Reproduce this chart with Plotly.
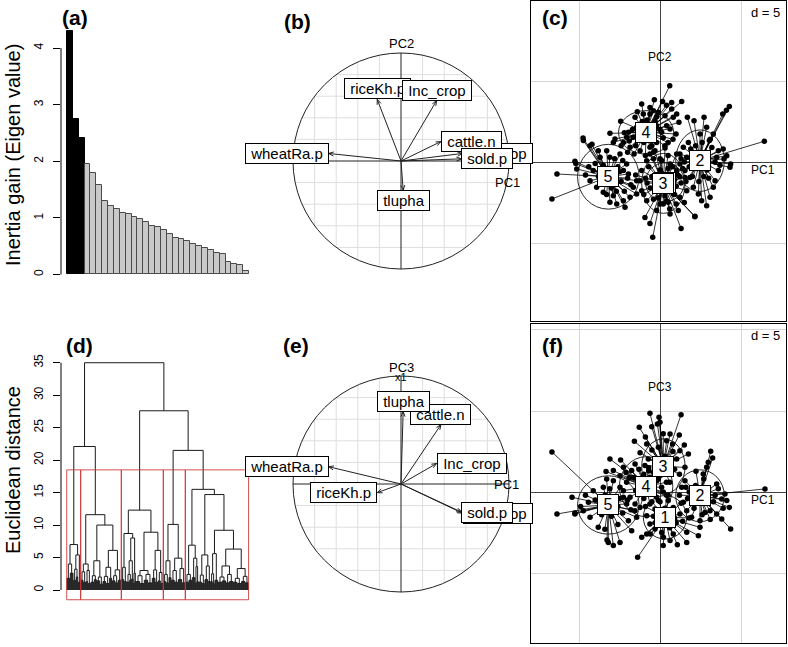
import math
import plotly.graph_objects as go

W, H = 788, 647

# ---------------- data ----------------
eigen_values = [4.30, 2.75, 2.41, 1.95, 1.80, 1.58, 1.29, 1.21, 1.16, 1.09, 1.07, 1.02, 0.98,
                0.92, 0.86, 0.84, 0.79, 0.71, 0.65, 0.62, 0.60, 0.54, 0.50, 0.47, 0.44, 0.38,
                0.37, 0.22, 0.19, 0.16, 0.07]
n_axes_kept = 3
eigen_ticks = [0, 1, 2, 3, 4]

var_names = ["Tot_crop", "wheatRa.p", "riceKh.p", "Inc_crop", "cattle.n", "sold.p", "tlupha"]
var_pc1 = [0.57, -0.67, -0.22, 0.33, 0.37, 0.56, 0.02]
var_pc2 = [0.07, 0.07, 0.57, 0.56, 0.18, 0.02, -0.27]
var_pc3 = [-0.27, 0.16, -0.08, 0.19, 0.55, -0.26, 0.67]
circle_grid = [-0.8, -0.6, -0.4, -0.2, 0.2, 0.4, 0.6, 0.8]

# dendrogram: node = [height, left, right]; bundle of leaves = [height, n_leaves]
cluster1 = [7.0, [4.0, [1.8, 5], [2.6, 5]], [5.4, [3.2, [1.5, 4], [2.0, 3]], [1.2, 4]]]
cluster2 = [11.6, [4.0, [2.8, [1.5, 4], [1.2, 4]], [3.0, [1.3, 3], [1.0, 4]]],
            [10.0, [4.5, [2.2, [1.2, 5], [1.6, 4]], [2.0, [1.4, 5], [0.9, 4]]],
             [6.1, [3.5, [2.1, [1.3, 5], [1.0, 5]], [1.8, 4]], [3.1, [2.2, [1.4, 5], [1.1, 4]], [1.5, 5]]]]]
cluster3 = [12.3, [8.7, [3.5, [1.6, 4], [1.3, 4]],
                   [8.0, [4.5, [2.4, [1.2, 4], [1.5, 3]], [1.7, 3]], [2.6, [1.1, 2], [1.4, 2]]]],
            [8.9, [3.0, [2.2, [1.3, 6], [1.0, 6]], [2.4, [1.5, 6], [1.1, 6]]],
             [6.1, [3.1, [1.8, 5], [1.2, 4]], [2.7, [1.4, 4], [1.0, 4]]]]]
cluster4 = [10.1, [4.5, [2.4, [1.3, 4], [1.1, 4]], [1.9, 4]],
            [4.9, [3.0, [1.5, 5], [1.2, 5]], [3.3, [1.6, 6], [1.1, 5]]]]
cluster5 = [15.5, [6.9, [2.4, [1.2, 5], [1.5, 5]], [4.9, [1.9, 5], [3.6, [1.1, 2], [1.3, 3]]]],
            [14.7, [5.4, [2.3, [1.2, 5], [1.0, 4]], [3.7, [1.6, 5], [1.3, 4]]],
             [9.2, [5.6, [2.5, [1.3, 3], [1.0, 3]], [1.5, 5]],
              [6.3, [3.7, [2.0, [1.2, 6], [1.4, 6]], [2.4, [1.1, 5], [1.3, 6]]],
               [3.3, [1.8, [1.2, 6], [1.0, 6]], [2.1, [1.3, 6], [1.1, 5]]]]]]]
dendro_tree = [35.0, [22.1, cluster1, cluster2], [27.6, cluster3, [21.5, cluster4, cluster5]]]
cluster_sizes = [21, 61, 63, 33, 95]
cut_height = 18.5
dist_ticks = [0, 5, 10, 15, 20, 25, 30, 35]

# class scatter (c): PC1 x PC2
c_cent_x = [0.31, 2.47, 0.21, -0.86, -3.19]
c_cent_y = [-1.25, 0.08, -1.32, 1.83, -0.91]
c_rx = [1.2, 1.5, 1.34, 1.7, 1.9]
c_ry = [1.2, 1.9, 1.85, 1.34, 2.0]
c_g1 = [(0.6, -1.0), (-0.2, -1.1), (0.9, -2.0), (-0.6, -1.6), (0.4, -2.4), (0.1, -0.7), (1.3, -1.3),
        (-0.9, -1.0), (0.0, 0.2), (1.1, -0.8), (0.2, -1.5), (0.7, -1.6), (-0.1, -2.2), (0.5, -0.4),
        (1.0, -2.6)]
c_g2 = [(4.28, 3.42), (4.1, 3.2), (3.87, 2.96), (3.29, 1.73), (3.05, 1.32), (1.69, 2.76), (2.10, 2.55),
        (2.72, 2.76), (6.44, 1.28), (4.36, -0.12), (4.32, -0.33), (3.95, 0.19), (3.60, -0.53),
        (3.40, -1.15), (3.29, -1.56), (3.09, -2.18), (2.88, -2.70), (2.57, -2.39), (2.37, -1.98),
        (2.06, -1.56), (1.85, -0.95), (1.54, -0.53), (1.23, 0.49), (1.44, 0.91), (1.75, 1.21),
        (2.47, 1.73), (2.88, 2.14), (3.60, 0.70), (4.12, 0.39), (3.50, 0.29), (1.23, -0.12),
        (1.65, 0.29), (1.5, 0.0), (2.0, 0.5), (3.0, -0.3), (2.8, 0.6), (1.8, -0.3), (2.2, 1.0),
        (3.2, 0.9), (2.0, -0.9), (3.0, -1.0), (2.5, 0.3), (2.9, -0.5), (2.3, -0.4), (3.4, 0.0),
        (2.6, 1.2), (1.9, 0.8), (3.7, -0.2), (2.4, -1.2), (1.6, -1.2), (3.9, 0.8), (2.7, -0.9),
        (3.1, 1.4), (1.3, 0.2), (2.9, 0.2), (2.1, 0.0)]
c_g3 = [(-0.45, -4.65), (-0.62, -3.79), (-0.93, -3.42), (-0.21, -3.00), (0.62, -3.21), (1.13, -3.00),
        (2.16, -3.35), (1.23, -2.18), (1.65, -1.77), (1.54, -0.95), (1.03, -0.53), (0.62, -0.12),
        (0.31, 0.86), (-0.31, 0.70), (-0.82, 0.08), (-1.13, -0.53), (-1.23, -1.15), (-1.13, -1.77),
        (-0.82, -2.39), (0.00, -2.59), (0.51, -2.49), (0.82, -1.98), (-0.62, 0.49), (1.03, 0.49),
        (1.3, -4.1), (2.15, -3.38), (0.5, -0.8), (-0.5, -0.9), (1.0, -1.5), (-0.3, -1.8),
        (0.3, -2.1), (0.8, -0.3), (-0.7, -0.3), (0.0, -0.5), (0.4, -1.6), (-0.2, -1.4), (0.9, -1.1),
        (0.2, -2.6), (-0.8, -1.3), (1.2, -0.9), (-0.4, -2.3), (0.6, -2.9), (1.5, -2.5), (-1.0, -2.0),
        (0.1, 0.1), (0.5, 0.4), (-0.4, 0.2), (1.4, -0.4), (-1.5, -0.8)]
c_g4 = [(0.6, 4.7), (-0.35, 3.85), (0.16, 3.74), (0.72, 3.68), (1.34, 3.74), (-1.13, 3.58),
        (-0.41, 3.17), (0.72, 3.27), (-0.62, 2.96), (-2.43, 2.51), (-1.95, 1.83), (-3.09, 1.77),
        (1.03, 2.96), (1.17, 2.45), (0.99, 1.73), (0.41, 2.24), (-0.21, 2.24), (-1.44, 2.14),
        (-2.06, 1.52), (-2.78, 1.42), (-2.88, 1.21), (-0.41, 1.52), (0.10, 1.83), (0.62, 2.04),
        (-1.54, 2.76), (-1.03, 2.96), (-0.10, 3.07), (-0.62, 3.37), (0.31, 2.86), (0.82, 2.76),
        (-1.85, 0.91), (-1.23, 0.70), (-0.62, 0.91), (-2.26, 1.21), (-1.65, 1.52), (-0.21, 1.21),
        (-1.5, 1.0), (-1.0, 1.2), (-0.5, 1.0), (-1.2, 2.3), (-0.3, 2.5), (0.2, 1.5), (-2.0, 0.6),
        (-1.7, 2.0), (0.5, 1.2), (-0.8, 2.6), (-1.3, 1.6), (-0.6, 1.9), (-1.9, 1.3), (-1.1, 2.5),
        (0.0, 2.0), (-0.4, 0.6), (-2.4, 1.0), (-1.6, 0.5), (0.3, 1.0), (-0.9, 0.4), (-2.2, 1.8),
        (0.8, 1.4), (-1.4, 3.1), (0.4, 3.5), (-0.2, 2.8)]
c_g5 = [(-4.73, 1.32), (-4.32, 1.01), (-3.81, 0.70), (-5.25, 0.04), (-5.14, -0.43), (-3.09, -2.49),
        (-2.67, -2.59), (-2.16, -2.80), (-2.26, -2.39), (-1.85, -2.18), (-1.44, -1.98), (-1.65, -1.56),
        (-1.44, -1.15), (-1.95, -0.74), (-2.26, -0.53), (-2.06, -0.12), (-2.47, 0.49), (-3.29, 0.70),
        (-3.70, 0.29), (-4.12, -0.53), (-4.32, -1.15), (-3.91, -1.56), (-3.50, -1.87), (-2.88, -2.08),
        (-6.67, -2.28), (-6.36, -0.74), (-5.2, -0.1), (-4.75, 1.48), (-4.2, 1.1), (-2.6, -0.3),
        (-3.0, -1.6), (-2.4, -1.2), (-3.8, -0.9), (-2.0, -1.0), (-2.8, 0.2), (-3.5, -0.2), (-2.2, -1.8),
        (-3.3, -0.4), (-2.9, -1.1), (-3.6, -1.3), (-2.5, -0.6), (-4.0, -0.1), (-3.1, 0.3), (-2.7, -1.8),
        (-3.3, -2.0), (-4.4, -0.3), (-2.3, 0.1), (-1.8, -1.4), (-4.6, -0.8)]

# class scatter (f): PC1 x PC3
f_cent_x = [0.31, 2.47, 0.21, -0.86, -3.19]
f_cent_y = [-1.56, -0.23, 1.58, 0.33, -0.80]
f_rx = [1.34, 1.5, 1.34, 1.65, 1.9]
f_ry = [1.34, 1.6, 1.7, 1.85, 1.8]
f_g1 = [(-1.38, -4.03), (-1.13, -2.80), (-0.82, -2.59), (-0.31, -2.28), (0.62, -3.00), (1.07, -3.25),
        (1.65, -3.11), (2.37, -2.70), (2.47, -2.18), (1.65, -2.49), (0.82, -2.59), (-0.62, -1.98),
        (-0.82, -1.46), (-0.31, -1.05), (0.82, -0.95), (1.23, -1.36), (0.21, -2.80), (0.51, -0.53),
        (-0.10, -0.53), (0.2, -3.3), (0.5, -1.2), (-0.4, -1.5), (1.0, -1.9), (0.0, -2.0), (0.3, -1.0),
        (0.9, -1.6), (-0.3, -1.9), (0.6, -2.2), (1.4, -1.8), (-0.6, -2.6), (0.1, -2.5), (1.8, -1.6),
        (-0.9, -0.9), (0.4, -0.2), (1.3, -0.7), (-0.5, -0.6)]
f_g2 = [(3.13, 2.51), (3.25, 2.10), (2.98, 1.83), (2.88, 1.52), (2.22, 1.28), (2.67, 1.11), (6.48, 0.19),
        (4.01, -0.12), (4.28, -0.95), (4.12, -0.53), (4.36, -2.28), (3.81, -1.67), (3.50, -1.36),
        (3.09, -1.15), (2.47, -1.77), (1.95, -1.56), (1.65, -1.15), (1.44, -0.64), (1.34, 0.29),
        (1.54, 0.70), (3.50, 0.49), (3.81, -0.43), (2.78, -1.26), (1.8, 0.0), (2.2, 0.4), (3.0, 0.2),
        (2.0, -0.6), (3.3, -0.6), (1.2, -0.2), (2.5, 0.2), (2.9, -0.6), (2.1, -1.0), (3.4, -0.2),
        (2.7, 0.8), (3.6, 0.2), (2.3, -0.2), (1.7, -0.4), (3.1, -1.7), (2.6, -1.4), (3.9, -1.0),
        (1.6, 0.3)]
f_g3 = [(-0.62, 4.86), (-0.06, 4.61), (1.30, 4.77), (0.0, 4.30), (-1.28, 3.99), (-0.51, 4.03),
        (-0.16, 4.20), (0.62, 3.58), (1.19, 3.52), (-1.58, 3.13), (-0.82, 2.96), (0.78, 2.96),
        (1.23, 2.55), (1.75, 2.35), (-1.23, 2.43), (-0.10, 2.76), (0.41, 3.17), (-0.72, 2.04),
        (1.03, 2.04), (1.54, 1.52), (0.62, 1.11), (-0.41, 1.21), (-0.93, 1.63), (0.3, 2.2),
        (-0.3, 1.9), (0.9, 1.4), (0.0, 1.0), (0.5, 1.8), (-0.1, 1.5), (0.8, 2.5), (-0.5, 2.6),
        (0.3, 1.2), (1.2, 1.1), (-0.7, 1.3), (0.2, 3.6), (-0.9, 3.4), (1.5, 2.9), (0.6, 0.6),
        (-0.2, 0.7)]
f_g4 = [(-3.09, 2.04), (-2.43, 1.98), (-2.88, 1.32), (-3.33, 1.26), (-2.26, 1.52), (-1.75, 1.32),
        (-2.47, 1.01), (-2.06, 0.60), (-2.26, 0.08), (-1.85, -0.33), (-1.54, -0.74), (-1.23, -0.95),
        (-0.62, -0.74), (-0.21, -0.33), (0.10, 0.29), (-0.10, 0.80), (-0.62, 0.91), (-1.34, 0.70),
        (-1.54, 1.73), (-0.82, -0.12), (-1.2, 0.2), (-0.4, 0.4), (-1.6, 0.9), (0.4, 0.6),
        (-1.0, 1.1), (0.5, -0.2), (-1.1, 0.6), (-0.5, 0.0), (-1.5, 0.1), (-0.3, 1.2), (-1.9, 0.9),
        (-1.0, -0.4), (0.2, 0.0), (-0.7, 1.5), (-2.1, 1.2), (-1.3, 1.4), (0.0, -0.6), (-0.6, 0.3)]
f_g5 = [(-5.43, -0.33), (-5.25, -1.36), (-4.73, -1.15), (-4.42, -0.64), (-3.81, -2.18), (-3.19, -3.11),
        (-2.88, -3.31), (-2.47, -3.11), (-1.75, -2.39), (-1.95, -1.77), (-1.44, -1.56), (-1.54, -1.15),
        (-2.06, -0.74), (-2.26, -0.33), (-2.47, 0.29), (-2.88, 0.70), (-3.29, 0.80), (-3.50, 0.29),
        (-4.12, 0.08), (-4.32, -1.56), (-6.67, 2.47), (-6.36, -1.36), (-5.25, -1.30), (-3.27, -2.96),
        (-2.6, -0.9), (-3.0, -1.5), (-2.3, -1.3), (-3.7, -0.6), (-3.4, -0.2), (-2.9, -1.0),
        (-3.6, -1.4), (-2.5, -0.4), (-4.0, -0.5), (-3.1, 0.2), (-2.6, -2.0), (-3.4, -2.3),
        (-4.6, -0.2), (-2.0, -0.5), (-1.8, -1.1), (-4.9, -0.9)]
class_labels = ["1", "2", "3", "4", "5"]

# ---------------- helpers ----------------
FONT = "Liberation Sans, Arial, Helvetica, sans-serif"


def dom_x(a, b):
    return [a / W, b / W]


def dom_y(top, bottom):
    return [1 - bottom / H, 1 - top / H]


def paper_text(text, x, y, size, **kw):
    d = dict(x=x / W, y=1 - y / H, xref="paper", yref="paper", text=text, showarrow=False,
             xanchor="center", yanchor="middle", font=dict(size=size, color="black"))
    d.update(kw)
    return d


fig = go.Figure()
shapes = []
annotations = []

# ---------------- (a) eigenvalue barplot ----------------
n = len(eigen_values)
fig.add_trace(go.Bar(
    x=list(range(1, n + 1)), y=eigen_values, width=1,
    marker=dict(color=["black" if i < n_axes_kept else "#c9c9c9" for i in range(n)],
                line=dict(color=["black" if i < n_axes_kept else "#4a4a4a" for i in range(n)], width=1)),
    xaxis="x", yaxis="y", hoverinfo="skip"))
shapes.append(dict(type="line", xref="paper", yref="y", x0=61 / W, x1=61 / W,
                   y0=eigen_ticks[0], y1=eigen_ticks[-1], line=dict(color="black", width=1)))

# ---------------- (d) dendrogram ----------------
dx, dy = [], []


def draw(node, start):
    if len(node) == 2:
        h, cnt = node
        for i in range(start, start + cnt):
            dx.extend([i, i, None]); dy.extend([0, h, None])
        dx.extend([start, start + cnt - 1, None]); dy.extend([h, h, None])
        return (start + start + cnt - 1) / 2, h, start + cnt
    h, left, right = node
    xl, hl, s1 = draw(left, start)
    xr, hr, s2 = draw(right, s1)
    dx.extend([xl, xl, xr, xr, None]); dy.extend([hl, h, h, hr, None])
    return (xl + xr) / 2, h, s2


draw(dendro_tree, 0)
fig.add_trace(go.Scatter(x=dx, y=dy, mode="lines", line=dict(color="#1a1a1a", width=1),
                         xaxis="x4", yaxis="y4", hoverinfo="skip"))
pos = 0
for s in cluster_sizes:
    shapes.append(dict(type="rect", xref="x4", yref="y4", x0=pos - 0.4, x1=pos + s - 0.6,
                       y0=-1.5, y1=cut_height, line=dict(color="rgba(205,50,50,0.85)", width=1)))
    pos += s
shapes.append(dict(type="line", xref="paper", yref="y4", x0=61 / W, x1=61 / W,
                   y0=dist_ticks[0], y1=dist_ticks[-1], line=dict(color="black", width=1)))


# ---------------- (b), (e) correlation circles ----------------
def corcircle(xa, ya, pcx, pcy):
    gx, gy = [], []
    for g in circle_grid:
        r = math.sqrt(1 - g * g)
        gx += [g, g, None, -r, r, None]
        gy += [-r, r, None, g, g, None]
    fig.add_trace(go.Scatter(x=gx, y=gy, mode="lines", line=dict(color="#dedede", width=1),
                             xaxis=xa, yaxis=ya, hoverinfo="skip"))
    shapes.append(dict(type="circle", xref=xa, yref=ya, x0=-1, x1=1, y0=-1, y1=1,
                       line=dict(color="#222", width=1)))
    fig.add_trace(go.Scatter(x=[-1, 1, None, 0, 0], y=[0, 0, None, -1, 1], mode="lines",
                             line=dict(color="#222", width=1), xaxis=xa, yaxis=ya, hoverinfo="skip"))
    ax_, ay_ = [], []
    hl, ang = 0.05, math.radians(22)
    for x, y in zip(pcx, pcy):
        ax_ += [0, x, None]; ay_ += [0, y, None]
        L = math.hypot(x, y)
        ux, uy = x / L, y / L
        for s in (1, -1):
            c, sn = math.cos(s * ang), math.sin(s * ang)
            rx, ry = ux * c - uy * sn, ux * sn + uy * c
            ax_ += [x, x - hl * rx, None]; ay_ += [y, y - hl * ry, None]
    fig.add_trace(go.Scatter(x=ax_, y=ay_, mode="lines", line=dict(color="#222", width=1),
                             xaxis=xa, yaxis=ya, hoverinfo="skip"))
    for name, x, y in zip(var_names, pcx, pcy):
        if x > y and x > -y:
            xan, yan = "left", "middle"
        elif x > y and x <= -y:
            xan, yan = "center", "top"
        elif x <= y and x <= -y:
            xan, yan = "right", "middle"
        else:
            xan, yan = "center", "bottom"
        annotations.append(dict(x=x, y=y, xref=xa, yref=ya, text="\u00a0" + name + "\u00a0",
                                showarrow=False, xanchor=xan, yanchor=yan, bgcolor="white",
                                bordercolor="black", borderwidth=1, borderpad=1,
                                font=dict(size=15, color="black")))


corcircle("x2", "y2", var_pc1, var_pc2)
corcircle("x5", "y5", var_pc1, var_pc3)
annotations += [
    dict(x=0, y=1.09, xref="x2", yref="y2", text="PC2", showarrow=False, font=dict(size=13)),
    dict(x=0.99, y=-0.2, xref="x2", yref="y2", text="PC1", showarrow=False, font=dict(size=13)),
    dict(x=0, y=1.08, xref="x5", yref="y5", text="PC3", showarrow=False, font=dict(size=13)),
    dict(x=0, y=0.99, xref="x5", yref="y5", text="x1", showarrow=False, font=dict(size=11)),
    dict(x=0.98, y=0.0, xref="x5", yref="y5", text="PC1", showarrow=False, font=dict(size=13)),
]


# ---------------- (c), (f) class scatter ----------------
def class_plot(xa, ya, groups, cx, cy, rx, ry, ylab):
    for k, pts in enumerate(groups):
        lx, ly = [], []
        for (px, py) in pts:
            lx += [cx[k], px, None]; ly += [cy[k], py, None]
        fig.add_trace(go.Scatter(x=lx, y=ly, mode="lines", line=dict(color="black", width=0.8),
                                 xaxis=xa, yaxis=ya, hoverinfo="skip"))
        fig.add_trace(go.Scatter(x=[p[0] for p in pts], y=[p[1] for p in pts], mode="markers",
                                 marker=dict(color="black", size=5.5), xaxis=xa, yaxis=ya,
                                 hoverinfo="skip"))
        shapes.append(dict(type="circle", xref=xa, yref=ya, x0=cx[k] - rx[k], x1=cx[k] + rx[k],
                           y0=cy[k] - ry[k], y1=cy[k] + ry[k], line=dict(color="#111", width=0.9)))
    for k, lab in enumerate(class_labels):
        annotations.append(dict(x=cx[k], y=cy[k], xref=xa, yref=ya, text="\u00a0" + lab + "\u00a0",
                                showarrow=False, bgcolor="white", bordercolor="black", borderwidth=1,
                                borderpad=1, font=dict(size=16, color="black")))
    annotations.append(dict(x=0, y=6.48, xref=xa, yref=ya, text=ylab, showarrow=False,
                            font=dict(size=12)))
    annotations.append(dict(x=6.36, y=-0.5, xref=xa, yref=ya, text="PC1", showarrow=False,
                            font=dict(size=12)))


class_plot("x3", "y3", [c_g1, c_g2, c_g3, c_g4, c_g5], c_cent_x, c_cent_y, c_rx, c_ry, "PC2")
class_plot("x6", "y6", [f_g1, f_g2, f_g3, f_g4, f_g5], f_cent_x, f_cent_y, f_rx, f_ry, "PC3")

# ---------------- text labels ----------------
for lab, x, y in [("(a)", 75, 18), ("(b)", 297, 22), ("(c)", 555, 18),
                  ("(d)", 79, 345), ("(e)", 296, 345), ("(f)", 552, 345)]:
    annotations.append(paper_text("<b>" + lab + "</b>", x, y, 21))
for y in (12, 335):
    annotations.append(paper_text("d = 5", 782, y, 13, xanchor="right"))
annotations.append(paper_text("Inertia gain (Eigen value)", 13, 155, 20, textangle=-90))
annotations.append(paper_text("Euclidean distance", 13, 470, 20, textangle=-90))

# ---------------- axes ----------------
hidden = dict(visible=False, fixedrange=True)
num_y = dict(showgrid=False, zeroline=False, showline=False, ticks="outside", ticklen=7,
             tickcolor="black", tickangle=-90, tickfont=dict(size=12), ticklabelstandoff=5,
             fixedrange=True)
scat = dict(showgrid=True, gridcolor="#d6d6d6", gridwidth=1, dtick=5, tick0=0, zeroline=True,
            zerolinecolor="#444", zerolinewidth=1, showline=True, mirror=True, linecolor="black",
            linewidth=1, showticklabels=False, ticks="", fixedrange=True)
R = 130 / 108

fig.update_layout(
    width=W, height=H, margin=dict(l=0, r=0, t=0, b=0),
    paper_bgcolor="white", plot_bgcolor="rgba(0,0,0,0)", showlegend=False, bargap=0,
    font=dict(family=FONT, color="black"),
    xaxis=dict(domain=dom_x(61, 255), range=[-0.522, 32.52], anchor="y", **hidden),
    yaxis=dict(domain=dom_y(20, 285), range=[-0.186, 4.495], anchor="x", tickvals=eigen_ticks, **num_y),
    xaxis2=dict(domain=dom_x(271, 531), range=[-R, R], anchor="y2", **hidden),
    yaxis2=dict(domain=dom_y(31, 291), range=[-R, R], anchor="x2", **hidden),
    xaxis3=dict(domain=dom_x(531, 786), range=[-7.963, 7.778], anchor="y3", **scat),
    yaxis3=dict(domain=dom_y(1, 321), range=[-9.815, 9.938], anchor="x3", **scat),
    xaxis4=dict(domain=dom_x(61, 255), range=[-9, 282.05], anchor="y4", **hidden),
    yaxis4=dict(domain=dom_y(355, 605), range=[-2.31, 36.19], anchor="x4", tickvals=dist_ticks, **num_y),
    xaxis5=dict(domain=dom_x(271, 531), range=[-R, R], anchor="y5", **hidden),
    yaxis5=dict(domain=dom_y(354, 614), range=[-R, R], anchor="x5", **hidden),
    xaxis6=dict(domain=dom_x(531, 786), range=[-7.963, 7.778], anchor="y6", **scat),
    yaxis6=dict(domain=dom_y(324, 643), range=[-9.321, 10.370], anchor="x6", **scat),
    shapes=shapes, annotations=annotations,
)

fig.write_html("out.html", config={"displayModeBar": False},
               post_script="document.body.style.margin='0px';document.body.style.overflow='hidden';")
